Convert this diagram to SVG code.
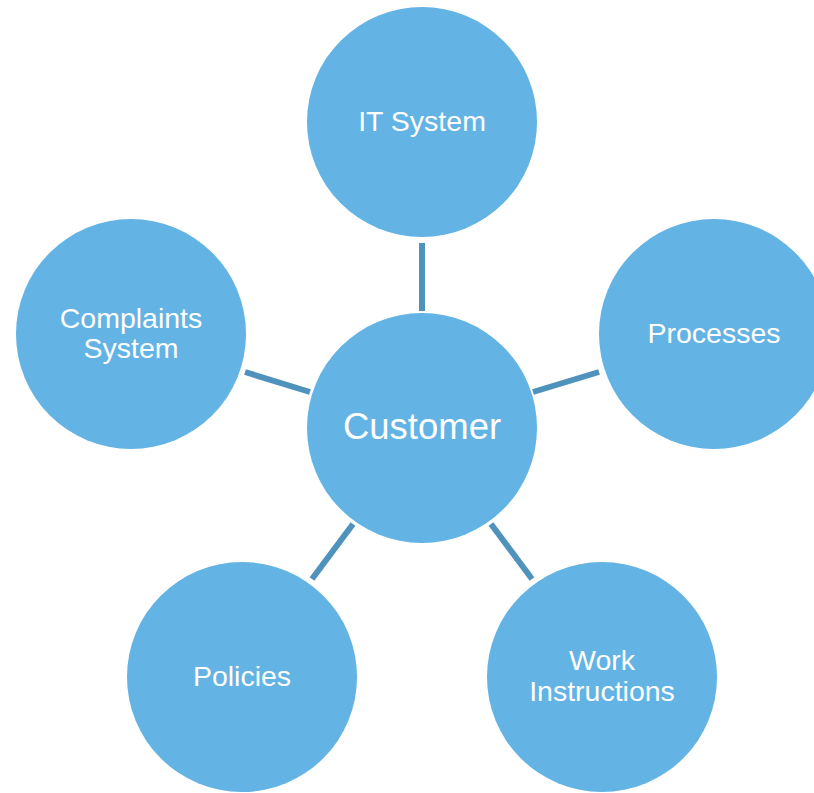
<svg xmlns="http://www.w3.org/2000/svg" width="814" height="793" viewBox="0 0 814 793">
<style>
.n{fill:#63b3e4}
.t{fill:#ffffff;font-family:"Liberation Sans",Arial,sans-serif;font-size:28.5px;text-anchor:middle}
.c{stroke:#4f93bc;stroke-width:6;fill:none}
</style>
<rect width="814" height="793" fill="#ffffff"/>
<g id="connectors">
<line class="c" x1="422" y1="243" x2="422" y2="311"/>
<line class="c" x1="245" y1="372" x2="310" y2="392"/>
<line class="c" x1="533" y1="392" x2="599" y2="372"/>
<line class="c" x1="312" y1="579" x2="353" y2="524"/>
<line class="c" x1="491" y1="524" x2="532" y2="579"/>
</g>
<g id="customer"><circle class="n" cx="422" cy="428" r="115"/><text class="t" x="422" y="439" style="font-size:36.5px">Customer</text></g>
<g id="it-system"><circle class="n" cx="422" cy="122" r="115"/><text class="t" x="422" y="131">IT System</text></g>
<g id="processes"><circle class="n" cx="714" cy="334" r="115"/><text class="t" x="714" y="343">Processes</text></g>
<g id="complaints"><circle class="n" cx="131" cy="334" r="115"/><text class="t" x="131" y="328">Complaints</text><text class="t" x="131" y="358">System</text></g>
<g id="policies"><circle class="n" cx="242" cy="677" r="115"/><text class="t" x="242" y="686">Policies</text></g>
<g id="work-instructions"><circle class="n" cx="602" cy="677" r="115"/><text class="t" x="602" y="670">Work</text><text class="t" x="602" y="701">Instructions</text></g>
</svg>
